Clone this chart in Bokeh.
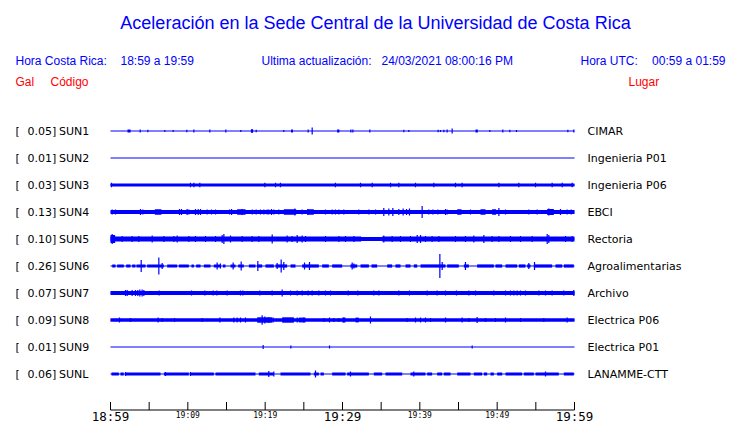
from bokeh.plotting import figure
from bokeh.models import Range1d, Label, ColumnDataSource
from bokeh.core.properties import value
from bokeh.embed import file_html
from bokeh.resources import INLINE

# ---------------- data ----------------
title = "Aceleración en la Sede Central de la Universidad de Costa Rica"
codes = ["SUN1", "SUN2", "SUN3", "SUN4", "SUN5", "SUN6", "SUN7", "SUN8", "SUN9", "SUNL"]
peaks = ["0.05", "0.01", "0.03", "0.13", "0.10", "0.26", "0.07", "0.09", "0.01", "0.06"]
places = ["CIMAR", "Ingenieria P01", "Ingenieria P06", "EBCI", "Rectoria",
          "Agroalimentarias", "Archivo", "Electrica P06", "Electrica P01", "LANAMME-CTT"]

# time axis in minutes after 18:59
tick_minutes = [0, 5, 10, 15, 20, 25, 30, 35, 40, 45, 50, 55, 60]
label_minutes = [0, 10, 20, 30, 40, 50, 60]
label_texts = ["18:59", "19:09", "19:19", "19:29", "19:39", "19:49", "19:59"]

# envelopes: bands (t0, t1, half amplitude), spikes (t, half amplitude)
sun1_bands = [(2.2, 2.6, 1.5), (18.15, 18.45, 1.5), (23.35, 23.6, 1.5), (29.3, 29.6, 1.5), (47.2, 47.5, 1.5)]
sun1_spikes = [(3.84, 1.5), (4.83, 1.2), (7.03, 1), (8.10, 1), (9.87, 1.2), (10.78, 1.5), (12.84, 1.5),
               (14.91, 1.5), (16.85, 1), (18.3, 2), (18.84, 1.2), (22.41, 1), (25.56, 1.5), (26.08, 3.5),
               (31.08, 1.5), (31.34, 1.5), (33.53, 1.5), (37.93, 1.2), (38.58, 1), (42.37, 1.2), (42.67, 1),
               (43.10, 1.2), (43.53, 1.5), (44.18, 2.5), (49.05, 1), (50.73, 1.5), (51.64, 1.2), (52.50, 1),
               (59.14, 1.2), (59.91, 1.5)]

sun2_bands = []
sun2_spikes = []

sun3_bands = [(0, 60, 1.6)]
sun3_spikes = [(0.13, 2.2), (10.34, 2.2), (10.78, 2.2), (11.55, 2.2), (19.96, 2.2), (21.34, 2.2), (21.98, 2.2),
               (29.09, 2.2), (32.33, 2.2), (33.84, 2.2), (36.21, 2.2), (37.28, 2.2), (39.44, 2.2), (41.81, 2.2),
               (44.61, 2.2), (45.47, 2.2), (50.22, 2.2), (52.80, 2.2), (54.96, 2.2), (57.11, 2.2), (58.41, 2.2),
               (59.7, 2.2)]

sun4_bands = [(0, 60, 1.9), (5.73, 6.59, 2.7), (16.38, 17.46, 2.7), (22.41, 24.01, 2.7), (25.43, 26.29, 2.7),
              (44.83, 45.39, 2.7), (47.84, 48.49, 2.7), (49.35, 49.87, 2.7), (56.47, 57.33, 3.0)]
sun4_spikes = [(0.22, 2.5), (0.65, 2.5), (2.16, 2), (3.02, 2), (3.88, 3), (4.18, 2.5), (4.74, 2), (7.11, 2),
               (7.67, 2), (8.19, 2), (8.92, 3), (9.18, 3), (9.91, 3), (10.13, 2.5), (10.99, 3), (11.34, 3),
               (11.64, 3), (12.5, 2.5), (13.06, 2.5), (13.58, 2.5), (15.39, 2.5), (15.65, 3), (17.03, 3),
               (18.32, 2.5), (18.84, 2.5), (19.4, 2.5), (19.83, 2.5), (20.26, 2.5), (20.47, 2.5), (20.82, 3),
               (21.12, 2.5), (21.77, 2.5), (23.84, 3.5), (24.78, 2.5), (25.52, 3), (27.8, 2.5), (28.66, 2.5),
               (29.09, 2.5), (29.53, 2.5), (30.17, 2.5), (32.11, 2.5), (33.41, 2.5), (34.27, 2.5), (35.34, 4),
               (35.99, 3.5), (36.51, 4), (37.28, 3), (37.84, 3.5), (38.28, 3), (38.66, 3.5), (40.3, 6),
               (41.16, 2.5), (41.68, 2.5), (42.33, 2.5), (43.32, 3), (43.53, 2.5), (46.55, 2.5), (50.22, 4),
               (51.08, 2.5), (54.09, 2.5), (55.17, 2.5), (56.68, 3.5), (58.19, 3), (59.05, 2.5), (59.57, 2.5)]

sun5_bands = [(0, 32.3, 2.6), (32.3, 35.1, 2.0), (35.1, 60, 2.6), (0.0, 0.6, 4)]
sun5_spikes = [(0.22, 5), (1.51, 3), (2.8, 3), (3.66, 3), (5.39, 3.5), (6.9, 3), (8.19, 3), (8.62, 3.5),
               (10.13, 3), (10.99, 3), (12.28, 3), (13.58, 3), (14.44, 4), (14.66, 5), (15.52, 3.5),
               (17.03, 3), (18.32, 3), (19.18, 3), (20.91, 4.5), (22.84, 3.5), (23.49, 3), (24.14, 4),
               (24.78, 3.5), (25.22, 3), (27.8, 3), (29.53, 3), (30.39, 3), (31.47, 3), (32.33, 2.5),
               (35.34, 3.5), (36.42, 3), (37.5, 3), (38.79, 3), (39.66, 4), (40.09, 4), (40.73, 3),
               (41.59, 3), (42.46, 3), (44.61, 3), (45.9, 3), (46.98, 3.5), (48.28, 4), (49.35, 3),
               (50.22, 3), (51.72, 3), (53.02, 3), (54.53, 3), (56.47, 5), (56.68, 4), (58.84, 3), (59.7, 3)]

sun6_bands = [(0.22, 0.65, 1.6), (0.86, 1.72, 1.6), (2.03, 2.59, 1.6), (2.8, 3.23, 1.6), (3.36, 4.53, 1.6),
              (4.74, 6.9, 1.6), (7.33, 8.62, 1.6), (8.84, 10.13, 1.6), (10.47, 10.78, 1.6), (11.08, 11.64, 1.6),
              (12.07, 12.93, 1.6), (13.36, 14.22, 1.6), (14.53, 14.87, 1.6), (15.52, 16.16, 1.6),
              (16.51, 17.24, 1.6), (17.89, 18.75, 1.6), (18.97, 19.61, 1.6), (20.04, 21.12, 1.6),
              (21.34, 22.84, 1.6), (23.28, 23.92, 1.6), (24.78, 26.94, 1.6), (27.37, 28.23, 1.6),
              (28.66, 29.96, 1.6), (31.03, 31.9, 1.6), (32.33, 33.41, 1.6), (33.75, 34.48, 1.6),
              (35.78, 36.42, 1.6), (36.85, 37.5, 1.6), (38.15, 38.79, 1.6), (39.22, 39.66, 1.6),
              (40.09, 43.32, 1.6), (43.53, 45.04, 1.6), (45.69, 46.34, 1.6), (47.41, 49.57, 1.6),
              (49.78, 50.65, 1.6), (51.08, 52.59, 1.6), (52.8, 53.66, 1.6), (53.88, 54.31, 1.6),
              (54.74, 57.11, 1.6), (57.54, 58.41, 1.6), (58.62, 59.91, 1.6)]
sun6_spikes = [(3.97, 6), (6.25, 8.5), (6.68, 3), (13.79, 3.5), (14.22, 2.5), (15.86, 3.5), (16.9, 4.5),
               (19.05, 5), (21.55, 3), (22.07, 6.5), (22.41, 4), (25.09, 3.5), (25.73, 4), (31.25, 3.5),
               (31.47, 2.5), (42.59, 12), (42.89, 4), (45.9, 4), (54.09, 3), (54.83, 4)]

sun7_bands = [(0, 60, 2.0)]
sun7_spikes = [(1.94, 3), (2.16, 3), (2.8, 3), (3.23, 3), (3.53, 3), (3.79, 3.5), (4.09, 3.5), (4.31, 3),
               (6.29, 2.5), (10.47, 2.5), (12.2, 2.5), (13.28, 2.5), (13.75, 2.5), (15.09, 2.5), (16.81, 2.5),
               (17.11, 2.5), (19.31, 2.5), (20.91, 2.5), (22.2, 3.5), (23.28, 2.5), (24.14, 2.5), (24.79, 2.5),
               (25.56, 2.5), (26.08, 2.5), (26.94, 2.5), (27.8, 2.5), (28.45, 2.5), (30.74, 2.5), (31.98, 2.5),
               (34.05, 2.5), (34.7, 2.5), (37.28, 2.5), (38.66, 2.5), (40.95, 2.5), (42.24, 2.5), (43.32, 2.5),
               (44.74, 2.5), (46.34, 2.5), (47.2, 2.5), (49.57, 2.5), (51.08, 2.5), (51.72, 2.5), (52.16, 2.5),
               (52.59, 2.5), (53.02, 2.5), (53.66, 2.5), (55.39, 2.5), (56.25, 2.5), (57.11, 2.5), (58.62, 2.5),
               (59.91, 3)]

sun8_bands = [(0, 60, 1.8), (18.97, 20.91, 2.7), (22.2, 23.71, 2.7), (24.35, 25.22, 2.4), (29.96, 30.39, 2.4),
              (31.68, 32.11, 2.4)]
sun8_spikes = [(1.16, 2.5), (2.59, 2), (6.16, 2.5), (6.68, 2), (8.28, 2), (11.85, 2), (14.14, 2.5), (15.95, 2.5),
               (16.38, 2.5), (16.81, 2.5), (17.46, 2.5), (19.61, 4.7), (19.96, 3.5), (20.47, 3), (21.03, 2.5),
               (24.14, 2.5), (25.0, 2.5), (27.59, 2), (28.32, 2.5), (28.88, 2), (29.53, 2), (30.17, 2.5),
               (33.62, 3.5), (38.36, 2), (39.44, 2.5), (40.09, 2.5), (40.73, 2.5), (41.38, 2), (43.32, 2.5),
               (45.47, 2.5), (46.34, 2), (47.41, 3), (48.49, 2), (49.78, 2), (51.08, 2.5), (53.02, 2),
               (56.03, 2), (59.05, 2.5)]

sun9_bands = []
sun9_spikes = [(19.74, 2), (23.32, 1.5), (28.32, 1.5), (46.77, 1.5)]

sunl_bands = [(0.13, 1.08, 1.5), (1.29, 1.72, 1.5), (1.94, 6.47, 1.5), (6.9, 10.13, 1.5), (10.34, 13.36, 1.5),
              (13.58, 18.75, 1.5), (19.18, 21.12, 1.5), (21.98, 25.86, 1.5), (26.29, 26.94, 1.5),
              (27.16, 27.59, 1.5), (28.66, 30.39, 1.5), (30.6, 33.41, 1.5), (34.05, 35.13, 1.5),
              (35.56, 37.72, 1.5), (38.79, 40.73, 1.5), (40.95, 41.59, 1.5), (42.24, 42.89, 1.5),
              (43.1, 43.97, 1.5), (44.83, 46.55, 1.5), (46.98, 48.06, 1.5), (48.28, 48.71, 1.5),
              (49.14, 49.57, 1.5), (50.0, 50.65, 1.5), (51.08, 53.23, 1.5), (53.45, 54.74, 1.5),
              (54.96, 57.97, 1.5), (58.62, 59.91, 1.5)]
sunl_spikes = [(1.94, 2), (7.11, 2), (10.34, 2), (20.47, 3), (21.12, 2.5), (26.51, 3.5), (31.03, 2.5),
               (39.22, 2.5), (56.25, 2.5)]

all_bands = [sun1_bands, sun2_bands, sun3_bands, sun4_bands, sun5_bands,
             sun6_bands, sun7_bands, sun8_bands, sun9_bands, sunl_bands]
all_spikes = [sun1_spikes, sun2_spikes, sun3_spikes, sun4_spikes, sun5_spikes,
              sun6_spikes, sun7_spikes, sun8_spikes, sun9_spikes, sunl_spikes]

# ---------------- layout ----------------
W, H = 740, 423
X0 = 110.0               # picture x of minute 0
PPM = 464.0 / 60.0       # pixels per minute
ROW0 = 130.5             # picture y of first trace
ROW_STEP = 27.0          # trace spacing (trace units = px)
BLUE = "#0000ff"
RED = "#ff0000"

x_range = Range1d(start=-X0 / PPM, end=(W - X0) / PPM)
y_range = Range1d(start=H - ROW0, end=-ROW0)   # flipped: y grows downward


def t_at(px):
    return (px - X0) / PPM


def y_at(py):
    return py - ROW0


p = figure(width=W, height=H, x_range=x_range, y_range=y_range,
           x_axis_type=None, y_axis_type=None, output_backend="svg",
           toolbar_location=None, min_border=0, outline_line_color=None)
p.grid.visible = False
p.background_fill_color = "white"
p.border_fill_color = "white"

row_y = [i * ROW_STEP for i in range(len(codes))]

# baselines
p.segment(x0=[0] * len(codes), x1=[60] * len(codes), y0=row_y, y1=row_y,
          line_color=BLUE, line_width=1)

# bands
bl, br, bb, bt = [], [], [], []
for y, bands in zip(row_y, all_bands):
    for t0, t1, h in bands:
        bl.append(t0); br.append(t1); bb.append(y + h); bt.append(y - h)
p.quad(left=bl, right=br, bottom=bb, top=bt, fill_color=BLUE, line_color=None)

# spikes
sx, sy0, sy1 = [], [], []
for y, spikes in zip(row_y, all_spikes):
    for t, a in spikes:
        sx.append(t); sy0.append(y - a); sy1.append(y + a)
p.segment(x0=sx, x1=sx, y0=sy0, y1=sy1, line_color=BLUE, line_width=1.2)

# station labels
lab = ColumnDataSource(dict(y=row_y, peak=[v + "]" for v in peaks], code=codes, place=places,
                            br=["["] * len(codes)))
common = dict(text_font=value("DejaVu Sans"), text_font_size=value("11px"),
              text_color="black", text_baseline="middle")
p.text(x=t_at(15), y="y", text="br", source=lab, **common)
p.text(x=t_at(27), y="y", text="peak", source=lab, **common)
p.text(x=t_at(58.5), y="y", text="code", source=lab, **common)
p.text(x=t_at(587), y="y", text="place", source=lab, **common)

# time axis
axis_y = y_at(409.5)
p.segment(x0=[0], x1=[60], y0=[axis_y], y1=[axis_y], line_color="black", line_width=1)
p.segment(x0=tick_minutes, x1=tick_minutes, y0=[axis_y] * len(tick_minutes),
          y1=[axis_y - 8] * len(tick_minutes), line_color="black", line_width=1)
big = [(m, t) for m, t in zip(label_minutes, label_texts) if m % 30 == 0]
small = [(m, t) for m, t in zip(label_minutes, label_texts) if m % 30 != 0]
p.text(x=[m for m, _ in big], y=[y_at(415.5)] * len(big), text=[t for _, t in big],
       text_font=value("DejaVu Sans Mono"), text_font_size=value("12.5px"), text_color="black",
       text_align="center", text_baseline="middle")
p.text(x=[m for m, _ in small], y=[y_at(415)] * len(small), text=[t for _, t in small],
       text_font=value("DejaVu Sans Mono"), text_font_size=value("8px"), text_color="black",
       text_align="center", text_baseline="middle")


# header texts
def add_label(text, px, py, color, size, align="left"):
    p.add_layout(Label(x=px, y=H - py, x_units="screen", y_units="screen", text=text,
                       text_font="Liberation Sans", text_font_size=size, text_color=color,
                       text_align=align, text_baseline="middle"))


add_label(title, 375, 22, BLUE, "18px", "center")
add_label("Hora Costa Rica:", 15, 60, BLUE, "12px")
add_label("18:59 a 19:59", 120, 60, BLUE, "12px")
add_label("Ultima actualización:", 261, 60, BLUE, "12px")
add_label("24/03/2021 08:00:16 PM", 381, 60, BLUE, "12px")
add_label("Hora UTC:", 580, 60, BLUE, "12px")
add_label("00:59 a 01:59", 725, 60, BLUE, "12px", "right")
add_label("Gal", 15, 81, RED, "12px")
add_label("Código", 50, 81, RED, "12px")
add_label("Lugar", 628, 81, RED, "12px")

open("out.html", "w").write(file_html(p, INLINE))
